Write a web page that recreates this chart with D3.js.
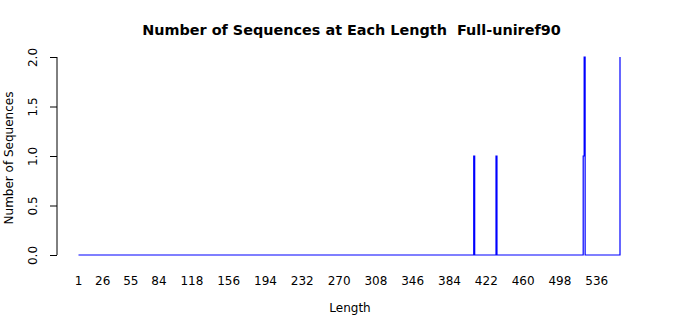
<!DOCTYPE html>
<html>
<head>
<meta charset="utf-8">
<script src="https://cdn.jsdelivr.net/npm/d3@7"></script>
<style>
	body { margin: 0; background: #fff; }
	text { font-family: "DejaVu Sans", sans-serif; fill: #000; }
</style>
</head>
<body>
<div id="chart"></div>
<script>
// points of the length profile (count is 0 everywhere else)
var lengths = [1, 409, 410, 432, 433, 522, 523, 524, 560];
var counts  = [0, 1, 0, 1, 0, 1, 2, 0, 2];
// labels under the x axis
var xTicks = [1, 26, 55, 84, 118, 156, 194, 232, 270, 308, 346, 384, 422, 460, 498, 536];
var yTicks = [0, 0.5, 1, 1.5, 2];

var W = 700, H = 315;

var svg = d3.select("#chart").append("svg")
	.attr("width", W)
	.attr("height", H);

svg.append("rect").attr("width", W).attr("height", H).attr("fill", "#fff");

var x = d3.scaleLinear().domain([1, 560]).range([78.5, 620]);
var y = d3.scaleLinear().domain([0, 2]).range([255, 57]);

// titre
svg.append("text")
	.attr("x", 351.5).attr("y", 35)
	.attr("text-anchor", "middle")
	.style("font-size", "14.4px")
	.style("font-weight", "bold")
	.style("white-space", "pre")
	.text("Number of Sequences at Each Length  Full-uniref90");

// axe y
var yAxis = svg.append("g")
	.attr("transform", "translate(57,0)")
	.call(d3.axisLeft(y).tickValues(yTicks).tickSize(7).tickFormat(d3.format(".1f")));
yAxis.select(".domain").attr("d", "M0," + y(0) + "V" + y(2)).attr("stroke", "#000");
yAxis.selectAll("text")
	.attr("transform", "rotate(-90)")
	.attr("x", 0).attr("y", -20).attr("dy", 0)
	.attr("text-anchor", "middle")
	.style("font-size", "12px")
	.style("font-family", "DejaVu Sans, sans-serif");

svg.append("text")
	.attr("transform", "translate(12.5,158) rotate(-90)")
	.attr("text-anchor", "middle")
	.style("font-size", "12px")
	.text("Number of Sequences");

// labels x (pas de ligne d'axe)
svg.append("g").selectAll("text")
	.data(xTicks)
	.enter().append("text")
	.attr("x", function(d){ return x(d); })
	.attr("y", 285)
	.attr("text-anchor", "middle")
	.style("font-size", "12px")
	.text(function(d){ return d; });

svg.append("text")
	.attr("x", 350).attr("y", 312)
	.attr("text-anchor", "middle")
	.style("font-size", "12px")
	.text("Length");

// courbe en escalier
var pts = lengths.map(function(d, i){ return [d, counts[i]]; });
svg.append("path")
	.datum(pts)
	.attr("fill", "none")
	.attr("stroke", "#0000ff")
	.attr("stroke-width", 1.2)
	.attr("d", d3.line()
		.curve(d3.curveStepAfter)
		.x(function(d){ return x(d[0]); })
		.y(function(d){ return y(d[1]); }));
</script>
</body>
</html>
